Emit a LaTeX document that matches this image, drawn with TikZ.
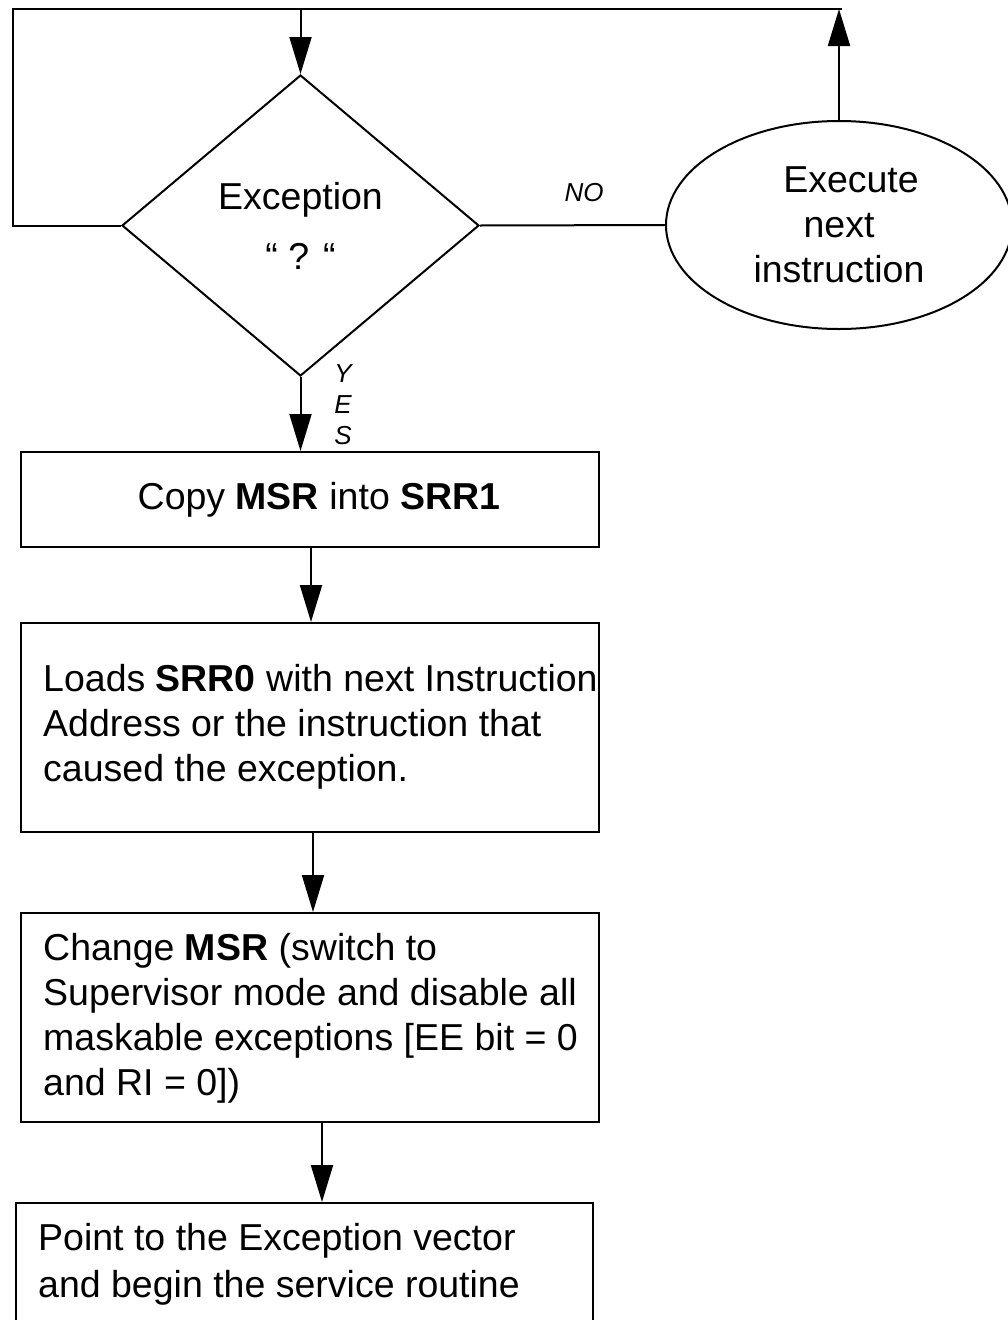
\documentclass[tikz,border=0pt]{standalone}
\usepackage{fontspec}
\setmainfont{Liberation Sans}
\usetikzlibrary{shapes.geometric,arrows.meta}

\tikzset{
  ln/.style={line width=2pt},
  arr/.style={ln,-{Triangle[length=37pt,width=22pt]}},
  bigtext/.style={font=\fontsize{37.5}{45}\selectfont},
  smalltext/.style={font=\fontsize{26}{31}\selectfont\itshape},
  decision/.style={diamond,draw,ln,inner sep=0pt,minimum width=357pt,minimum height=301pt,bigtext,align=center},
  oval/.style={ellipse,draw,ln,inner sep=0pt,minimum width=346pt,minimum height=208pt,bigtext,align=center},
  procbox/.style={rectangle,draw,ln,inner sep=0pt,minimum width=578pt},
  boxtext/.style={bigtext,align=left,inner sep=0pt,anchor=west},
}

\begin{document}
\begin{tikzpicture}[x=1pt,y=-1pt]
\useasboundingbox (0,0) rectangle (1008,1320);

% decision and the loop back
\node[decision] (dec) at (300.5,225.5) {Exception\\[15pt]“ ? “};
\node[oval] (exe) at (839,225) {\hspace*{24pt}Execute\\next\hspace*{10pt}\\instruction};

\coordinate (tl) at (13,9);
\coordinate (tr) at (842,9);

\draw[ln] (tr) -- (tl) |- (dec.west);
\draw[arr] (dec.north |- tl) -- (dec.north);
\draw[arr] (exe.north) -- (exe.north |- tr);
\draw[ln] (dec.east) -- (exe.west);

\node[smalltext] (no) at (584,193) {NO};
\node[smalltext,align=center] (yes) at (343,405) {Y\\E\\S};

% processing steps
\node[procbox,minimum height=95pt] (box1) at (310,499.5) {};
\node[bigtext,inner sep=0pt] (t1) at (319,499.5) {Copy \textbf{MSR} into \textbf{SRR1}};

\node[procbox,minimum height=209pt] (box2) at (310,727.5) {};
\node[boxtext] (t2) at (43,727) {Loads \textbf{SRR0} with next Instruction\\Address or the instruction that\\caused the exception.};

\node[procbox,minimum height=209pt] (box3) at (310,1017.5) {};
\node[boxtext] (t3) at (43,1018) {Change \textbf{MSR} (switch to\\Supervisor mode and disable all\\maskable exceptions [EE bit = 0\\and RI = 0])};

\node[procbox,minimum width=577pt,minimum height=157pt] (box4) at (304.5,1281.5) {};
\node[boxtext,font=\fontsize{37.5}{47}\selectfont] (t4) at (38,1264) {Point to the Exception vector\\and begin the service routine};

\draw[arr] (dec.south) -- (dec.south |- box1.north);
\draw[arr] ([xshift=1pt]box1.south) -- ([xshift=1pt]box1.south |- box2.north);
\draw[arr] ([xshift=3pt]box2.south) -- ([xshift=3pt]box2.south |- box3.north);
\draw[arr] ([xshift=12pt]box3.south) -- ([xshift=12pt]box3.south |- box4.north);
\end{tikzpicture}
\end{document}
